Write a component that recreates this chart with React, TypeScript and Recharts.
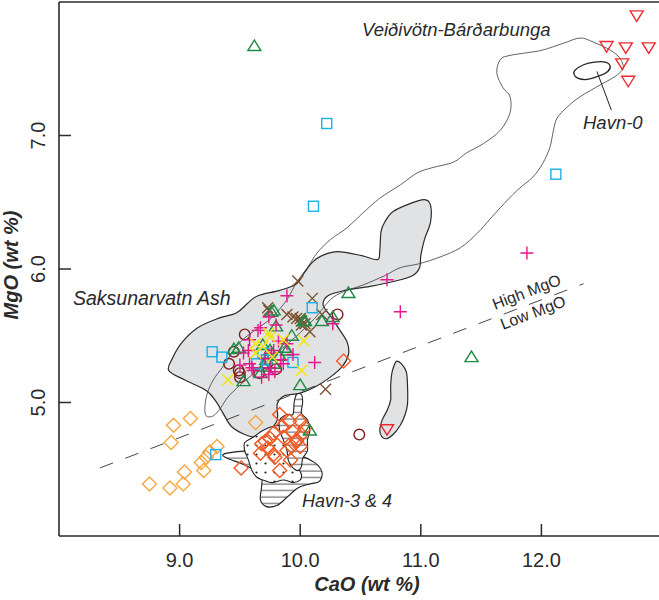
import React from 'react';
import { ScatterChart, Scatter, XAxis, YAxis, ReferenceLine } from 'recharts';

// ---------- axis ticks ----------
const xTicks = [9, 10, 11, 12];
const yTicks = [5, 6, 7];

// ---------- point series (CaO, MgO wt %) ----------
const redTriCaO = [12.79, 12.54, 12.70, 12.89, 12.67, 12.72, 10.72];
const redTriMgO = [7.90, 7.67, 7.66, 7.66, 7.54, 7.41, 4.80];

const greenTriCaO = [9.62, 11.42, 10.40, 10.00, 10.18, 10.27, 10.03, 9.93, 9.78, 9.80, 9.53, 9.67, 9.49, 9.45, 9.69, 9.75, 9.89, 9.72, 9.78, 10.08, 9.76, 10.04, 9.87, 9.83, 9.70];
const greenTriMgO = [7.67, 5.34, 5.82, 5.13, 5.61, 5.64, 5.61, 5.50, 5.69, 5.57, 5.16, 5.22, 5.41, 5.40, 5.43, 5.39, 5.39, 5.32, 5.29, 4.79, 5.68, 5.61, 5.41, 5.35, 5.27];

const cyanSqCaO = [10.22, 10.11, 12.12, 10.10, 9.27, 9.35, 9.94, 9.69, 9.64, 9.72, 9.30];
const cyanSqMgO = [7.09, 6.47, 6.71, 5.71, 5.38, 5.34, 5.30, 5.37, 5.29, 5.32, 4.61];

const plusCaO = [11.88, 10.83, 10.72, 10.27, 9.89, 10.12, 9.94, 9.74, 9.65, 9.80, 9.58, 9.53, 9.50, 9.68, 9.79, 9.75, 9.86, 9.89, 9.82, 9.76, 9.58, 9.61, 9.78, 9.57, 9.67, 9.60, 9.71, 9.84, 9.74];
const plusMgO = [6.12, 5.68, 5.92, 5.59, 5.80, 5.30, 5.36, 5.64, 5.54, 5.58, 5.47, 5.37, 5.28, 5.19, 5.23, 5.26, 5.29, 5.44, 5.46, 5.37, 5.29, 5.24, 5.39, 5.39, 5.56, 5.26, 5.33, 5.32, 5.21];

const brownXCaO = [9.98, 10.10, 9.73, 9.89, 9.97, 10.01, 10.01, 10.08, 10.18, 10.21, 9.74, 10.00, 10.04, 9.94];
const brownXMgO = [5.91, 5.78, 5.71, 5.66, 5.63, 5.61, 5.58, 5.53, 5.66, 5.10, 5.69, 5.63, 5.59, 5.64];

const yellowXCaO = [9.74, 9.86, 10.03, 9.63, 9.63, 10.01, 9.40, 9.75, 9.69, 9.77];
const yellowXMgO = [5.52, 5.47, 5.46, 5.44, 5.37, 5.24, 5.17, 5.49, 5.42, 5.34];

const circleCaO = [9.54, 9.45, 9.41, 9.49, 9.66, 10.31, 10.49, 9.50, 9.72, 9.50, 9.80];
const circleMgO = [5.51, 5.38, 5.29, 5.24, 5.22, 5.66, 4.76, 5.22, 5.29, 5.19, 5.25];

const lightDiaCaO = [9.18, 9.22, 9.31, 9.20, 9.04, 9.03, 8.92, 8.75, 8.93, 8.95, 9.09, 9.63, 9.25];
const lightDiaMgO = [4.55, 4.59, 4.67, 4.49, 4.48, 4.39, 4.36, 4.39, 4.70, 4.83, 4.88, 4.85, 4.63];

const redDiaCaO = [9.83, 9.91, 10.00, 10.01, 9.94, 9.86, 9.78, 9.71, 9.68, 9.93, 10.00, 9.97, 9.89, 9.78, 9.67, 9.83, 9.51, 10.04, 9.85, 9.79, 9.97, 9.75, 9.73, 10.36, 9.92];
const redDiaMgO = [4.91, 4.86, 4.86, 4.76, 4.78, 4.74, 4.77, 4.71, 4.69, 4.67, 4.67, 4.71, 4.64, 4.61, 4.62, 4.49, 4.51, 4.81, 4.82, 4.59, 4.72, 4.73, 4.66, 5.31, 4.57];

// ---------- field outlines ----------
const saksCaO = [8.91, 8.94, 9.02, 9.15, 9.32, 9.47, 9.56, 9.65, 9.83, 9.97, 10.04, 10.10, 10.18, 10.31, 10.51, 10.64, 10.66, 10.67, 10.70, 10.77, 10.91, 11.03, 11.08, 11.08, 11.03, 11.00, 10.99, 10.93, 10.79, 10.58, 10.37, 10.23, 10.19, 10.25, 10.33, 10.39, 10.40, 10.35, 10.25, 10.13, 10.00, 9.87, 9.81, 9.81, 9.74, 9.64, 9.54, 9.43, 9.36, 9.30, 9.22, 9.04];
const saksMgO = [5.24, 5.33, 5.45, 5.56, 5.63, 5.67, 5.74, 5.80, 5.84, 5.89, 5.98, 6.05, 6.10, 6.13, 6.10, 6.07, 6.14, 6.28, 6.35, 6.43, 6.49, 6.52, 6.48, 6.35, 6.22, 6.10, 6.01, 5.95, 5.91, 5.87, 5.84, 5.80, 5.73, 5.65, 5.54, 5.45, 5.36, 5.27, 5.19, 5.12, 5.07, 5.05, 4.99, 4.87, 4.79, 4.74, 4.76, 4.82, 4.92, 5.01, 5.09, 5.17];

const blobCaO = [10.80, 10.84, 10.88, 10.89, 10.89, 10.87, 10.83, 10.77, 10.72, 10.68, 10.66, 10.68, 10.72, 10.75, 10.75, 10.76, 10.78];
const blobMgO = [5.31, 5.29, 5.23, 5.12, 4.99, 4.91, 4.83, 4.76, 4.73, 4.74, 4.79, 4.87, 4.94, 5.02, 5.12, 5.22, 5.28];

const veidCaO = [9.22, 9.21, 9.23, 9.28, 9.36, 9.50, 9.67, 9.77, 9.89, 9.97, 10.06, 10.14, 10.25, 10.39, 10.52, 10.66, 10.83, 10.97, 11.10, 11.27, 11.38, 11.52, 11.66, 11.74, 11.74, 11.68, 11.63, 11.66, 11.74, 11.88, 12.01, 12.18, 12.32, 12.43, 12.57, 12.65, 12.68, 12.65, 12.59, 12.49, 12.32, 12.21, 12.13, 12.10, 12.07, 12.01, 11.93, 11.80, 11.66, 11.57, 11.47, 11.33, 11.16, 10.99, 10.83, 10.70, 10.52, 10.36, 10.25, 10.12, 9.96, 9.79, 9.63, 9.50, 9.40, 9.34, 9.28];
const veidMgO = [4.90, 4.97, 5.07, 5.17, 5.27, 5.45, 5.57, 5.64, 5.77, 5.90, 6.01, 6.12, 6.22, 6.31, 6.42, 6.53, 6.63, 6.72, 6.76, 6.80, 6.87, 6.94, 7.04, 7.17, 7.29, 7.36, 7.47, 7.57, 7.60, 7.62, 7.64, 7.69, 7.73, 7.70, 7.64, 7.58, 7.51, 7.47, 7.43, 7.38, 7.29, 7.21, 7.13, 7.04, 6.91, 6.79, 6.69, 6.59, 6.46, 6.37, 6.27, 6.16, 6.09, 6.04, 6.01, 5.95, 5.88, 5.83, 5.77, 5.63, 5.49, 5.36, 5.23, 5.13, 5.04, 4.96, 4.90];

const havn0CaO = [12.27, 12.30, 12.38, 12.49, 12.55, 12.57, 12.53, 12.44, 12.35, 12.28];
const havn0MgO = [7.46, 7.43, 7.42, 7.45, 7.48, 7.52, 7.55, 7.55, 7.53, 7.49];
const havn0LeaderCaO = [12.46, 12.58];
const havn0LeaderMgO = [7.48, 7.19];

const havnACaO = [9.36, 9.46, 9.63, 9.79, 10.00, 10.12, 10.18, 10.16, 10.08, 9.98, 9.89, 9.81, 9.72, 9.67, 9.68, 9.68, 9.63, 9.52, 9.40];
const havnAMgO = [4.61, 4.63, 4.64, 4.63, 4.60, 4.55, 4.48, 4.41, 4.39, 4.36, 4.29, 4.23, 4.22, 4.27, 4.37, 4.44, 4.49, 4.54, 4.58];
const havnBCaO = [9.54, 9.61, 9.69, 9.77, 9.87, 9.92, 9.93, 9.96, 9.98, 10.01, 10.00, 9.94, 9.86, 9.77, 9.69, 9.64, 9.60, 9.57, 9.54];
const havnBMgO = [4.70, 4.74, 4.79, 4.82, 4.83, 4.78, 4.67, 4.59, 4.52, 4.46, 4.42, 4.40, 4.42, 4.40, 4.42, 4.44, 4.49, 4.57, 4.64];
const havnCCaO = [9.83, 9.89, 9.94, 9.95, 9.97, 10.01, 10.02, 10.01, 10.06, 10.08, 10.06, 10.06, 10.02, 10.01, 9.98, 9.93, 9.90, 9.89, 9.86, 9.83];
const havnCMgO = [4.87, 4.91, 4.91, 5.00, 5.06, 5.06, 5.00, 4.92, 4.87, 4.79, 4.72, 4.64, 4.58, 4.52, 4.49, 4.52, 4.57, 4.64, 4.72, 4.79];

const divideCaO = [8.34, 12.35];
const divideMgO = [4.51, 5.89];

// ---------- helpers ----------
const zip = (xs: number[], ys: number[]) => xs.map((x, i) => ({ x, y: ys[i] }));
const FONT = 'Liberation Sans, Arial, Helvetica, sans-serif';
const INK = '#2a2a2a';

const COL = {
  red: '#ec2a30',
  green: '#1f8a45',
  cyan: '#1cb0e8',
  magenta: '#e8168c',
  brown: '#7a5230',
  yellow: '#f2e600',
  darkred: '#7e1c20',
  lorange: '#f7a640',
  rorange: '#f05a26',
};
const SW = 1.4;

const invTri = (c: string) => (p: any) => (
  <path d={`M${p.cx - 6.5},${p.cy - 4.5} L${p.cx + 6.5},${p.cy - 4.5} L${p.cx},${p.cy + 6} Z`} fill="none" stroke={c} strokeWidth={SW} />
);
const tri = (c: string) => (p: any) => (
  <path d={`M${p.cx - 6.5},${p.cy + 4.5} L${p.cx + 6.5},${p.cy + 4.5} L${p.cx},${p.cy - 6} Z`} fill="none" stroke={c} strokeWidth={SW} />
);
const square = (c: string) => (p: any) => (
  <rect x={p.cx - 5} y={p.cy - 5} width={10} height={10} fill="none" stroke={c} strokeWidth={SW} />
);
const plus = (c: string) => (p: any) => (
  <path d={`M${p.cx - 6.5},${p.cy} L${p.cx + 6.5},${p.cy} M${p.cx},${p.cy - 6.5} L${p.cx},${p.cy + 6.5}`} stroke={c} strokeWidth={SW} />
);
const cross = (c: string) => (p: any) => (
  <path d={`M${p.cx - 5.5},${p.cy - 5.5} L${p.cx + 5.5},${p.cy + 5.5} M${p.cx - 5.5},${p.cy + 5.5} L${p.cx + 5.5},${p.cy - 5.5}`} stroke={c} strokeWidth={SW} />
);
const circle = (c: string) => (p: any) => (
  <circle cx={p.cx} cy={p.cy} r={5.3} fill="none" stroke={c} strokeWidth={SW} />
);
const diamond = (c: string) => (p: any) => (
  <path d={`M${p.cx},${p.cy - 7} L${p.cx + 7},${p.cy} L${p.cx},${p.cy + 7} L${p.cx - 7},${p.cy} Z`} fill="none" stroke={c} strokeWidth={SW} />
);
const noShape = () => <g />;

// closed Catmull-Rom spline through pixel points
const smoothClosed = (pts: { x: number; y: number }[]) => {
  const n = pts.length;
  if (n < 3) return '';
  let d = `M${pts[0].x},${pts[0].y}`;
  for (let i = 0; i < n; i++) {
    const p0 = pts[(i - 1 + n) % n];
    const p1 = pts[i];
    const p2 = pts[(i + 1) % n];
    const p3 = pts[(i + 2) % n];
    const c1x = p1.x + (p2.x - p0.x) / 6;
    const c1y = p1.y + (p2.y - p0.y) / 6;
    const c2x = p2.x - (p3.x - p1.x) / 6;
    const c2y = p2.y - (p3.y - p1.y) / 6;
    d += ` C${c1x},${c1y} ${c2x},${c2y} ${p2.x},${p2.y}`;
  }
  return d + ' Z';
};

const outline = (fill: string, stroke: string, width: number) => (p: any) => {
  const pts = p.points || [];
  return <path d={smoothClosed(pts)} fill={fill} stroke={stroke} strokeWidth={width} strokeLinejoin="round" />;
};

const openLine = (stroke: string, width: number, dash?: string) => (p: any) => {
  const pts = p.points || [];
  if (pts.length < 2) return <g />;
  const d = pts.map((q: any, i: number) => `${i ? 'L' : 'M'}${q.x},${q.y}`).join(' ');
  return <path d={d} fill="none" stroke={stroke} strokeWidth={width} strokeDasharray={dash} />;
};

const XTick = (props: any) => {
  const { x, y, payload } = props;
  return (
    <g>
      <line x1={x} x2={x} y1={y} y2={y - 12} stroke={INK} strokeWidth={1.5} />
      <text x={x} y={y + 31} textAnchor="middle" fontSize={20} fill={INK} fontFamily={FONT}>
        {Number(payload.value).toFixed(1)}
      </text>
    </g>
  );
};

const YTick = (props: any) => {
  const { x, y, payload } = props;
  const bx = x - 14.5;
  return (
    <g>
      <line x1={x} x2={x + 12} y1={y} y2={y} stroke={INK} strokeWidth={1.5} />
      <text x={bx} y={y} transform={`rotate(-90 ${bx} ${y})`} textAnchor="middle" fontSize={20} fill={INK} fontFamily={FONT}>
        {Number(payload.value).toFixed(1)}
      </text>
    </g>
  );
};

export default function App() {
  return (
    <div style={{ position: 'absolute', left: 0, top: 0, width: 659, height: 600, background: '#fff' }}>
      <ScatterChart width={659} height={600} margin={{ top: 2, right: 0, bottom: 0, left: 0 }}>
        <defs>
          <pattern id="hatchH" patternUnits="userSpaceOnUse" width={8} height={6.5}>
            <rect x={0} y={0} width={8} height={6.5} fill="#fff" />
            <line x1={0} x2={8} y1={3} y2={3} stroke="#222" strokeWidth={0.8} />
          </pattern>
          <pattern id="dots" patternUnits="userSpaceOnUse" width={9} height={9}>
            <rect x={0} y={0} width={9} height={9} fill="#fff" />
            <circle cx={4.5} cy={4.5} r={1.1} fill="#222" />
          </pattern>
        </defs>
        <XAxis
          type="number"
          dataKey="x"
          domain={[8, 12.975]}
          ticks={xTicks}
          interval={0}
          allowDataOverflow
          height={64}
          axisLine={{ stroke: INK, strokeWidth: 1.6 }}
          tickLine={false}
          tickSize={0}
          tickMargin={0}
          tick={<XTick />}
        />
        <YAxis
          type="number"
          dataKey="y"
          domain={[4, 8]}
          ticks={yTicks}
          interval={0}
          allowDataOverflow
          width={59}
          axisLine={{ stroke: INK, strokeWidth: 1.6 }}
          tickLine={false}
          tickSize={0}
          tickMargin={0}
          tick={<YTick />}
        />
        <ReferenceLine y={8} stroke={INK} strokeWidth={1.6} />

        {/* fields */}
        <Scatter data={zip(saksCaO, saksMgO)} shape={noShape} line={outline('#e1e2e4', '#2a2a2a', 1.2)} lineType="joint" isAnimationActive={false} />
        <Scatter data={zip(blobCaO, blobMgO)} shape={noShape} line={outline('#e1e2e4', '#2a2a2a', 1.2)} lineType="joint" isAnimationActive={false} />
        <Scatter data={zip(veidCaO, veidMgO)} shape={noShape} line={outline('none', '#3a3a3a', 0.8)} lineType="joint" isAnimationActive={false} />
        <Scatter data={zip(havnACaO, havnAMgO)} shape={noShape} line={outline('url(#hatchH)', '#222', 1.1)} lineType="joint" isAnimationActive={false} />
        <Scatter data={zip(havnBCaO, havnBMgO)} shape={noShape} line={outline('url(#dots)', '#222', 1.1)} lineType="joint" isAnimationActive={false} />
        <Scatter data={zip(havnCCaO, havnCMgO)} shape={noShape} line={outline('url(#hatchH)', '#222', 1.1)} lineType="joint" isAnimationActive={false} />
        <Scatter data={zip(havn0CaO, havn0MgO)} shape={noShape} line={outline('none', '#222', 1.3)} lineType="joint" isAnimationActive={false} />
        <Scatter data={zip(havn0LeaderCaO, havn0LeaderMgO)} shape={noShape} line={openLine('#222', 1)} lineType="joint" isAnimationActive={false} />
        <Scatter data={zip(divideCaO, divideMgO)} shape={noShape} line={openLine('#333', 0.9, '14 13')} lineType="joint" isAnimationActive={false} />

        {/* samples */}
        <Scatter data={zip(lightDiaCaO, lightDiaMgO)} shape={diamond(COL.lorange)} isAnimationActive={false} />
        <Scatter data={zip(redDiaCaO, redDiaMgO)} shape={diamond(COL.rorange)} isAnimationActive={false} />
        <Scatter data={zip(circleCaO, circleMgO)} shape={circle(COL.darkred)} isAnimationActive={false} />
        <Scatter data={zip(brownXCaO, brownXMgO)} shape={cross(COL.brown)} isAnimationActive={false} />
        <Scatter data={zip(greenTriCaO, greenTriMgO)} shape={tri(COL.green)} isAnimationActive={false} />
        <Scatter data={zip(cyanSqCaO, cyanSqMgO)} shape={square(COL.cyan)} isAnimationActive={false} />
        <Scatter data={zip(plusCaO, plusMgO)} shape={plus(COL.magenta)} isAnimationActive={false} />
        <Scatter data={zip(yellowXCaO, yellowXMgO)} shape={cross(COL.yellow)} isAnimationActive={false} />
        <Scatter data={zip(redTriCaO, redTriMgO)} shape={invTri(COL.red)} isAnimationActive={false} />

        {/* labels */}
        <text x={362} y={36} fontSize={18.5} fontStyle="italic" fill={INK} fontFamily={FONT}>Veiðivötn-Bárðarbunga</text>
        <text x={583} y={129} fontSize={18.5} fontStyle="italic" fill={INK} fontFamily={FONT}>Havn-0</text>
        <text x={73} y={305} fontSize={19.5} fontStyle="italic" fill={INK} fontFamily={FONT}>Saksunarvatn Ash</text>
        <text x={302} y={507} fontSize={18} fontStyle="italic" fill={INK} fontFamily={FONT}>Havn-3 &amp; 4</text>
        <text x={495} y={310} fontSize={16} fill={INK} fontFamily={FONT} transform="rotate(-21 495 310)">High MgO</text>
        <text x={503} y={330} fontSize={16} fill={INK} fontFamily={FONT} transform="rotate(-21 503 330)">Low MgO</text>
        <text x={367} y={591} textAnchor="middle" fontSize={20} fontWeight="bold" fontStyle="italic" fill={INK} fontFamily={FONT}>CaO (wt %)</text>
        <text x={18} y={265} textAnchor="middle" fontSize={20} fontWeight="bold" fontStyle="italic" fill={INK} fontFamily={FONT} transform="rotate(-90 18 265)">MgO (wt %)</text>
      </ScatterChart>
    </div>
  );
}
